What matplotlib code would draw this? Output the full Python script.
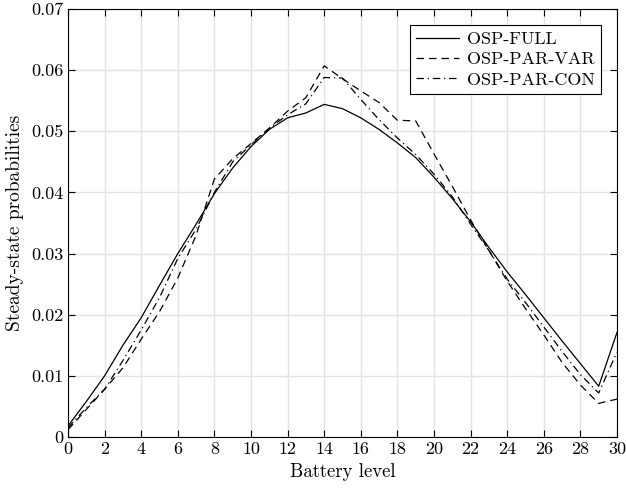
import matplotlib
matplotlib.use("Agg")
import matplotlib.pyplot as plt

plt.rcParams['font.family'] = 'serif'
plt.rcParams['font.serif'] = ['cmr10']
plt.rcParams['mathtext.fontset'] = 'cm'
plt.rcParams['axes.unicode_minus'] = False

# battery levels 0..30
levels = list(range(31))

osp_full = [0.0018, 0.0058, 0.0100, 0.0150, 0.0195, 0.0248, 0.0300, 0.0348,
            0.0398, 0.0440, 0.0475, 0.0503, 0.0522, 0.0530, 0.0544, 0.0537,
            0.0522, 0.0503, 0.0481, 0.0457, 0.0425, 0.0390, 0.0352, 0.0310,
            0.0270, 0.0233, 0.0195, 0.0157, 0.0120, 0.0083, 0.0171]

osp_par_var = [0.0012, 0.0045, 0.0078, 0.0113, 0.0160, 0.0205, 0.0260, 0.0330,
               0.0422, 0.0455, 0.0480, 0.0505, 0.0533, 0.0555, 0.0607, 0.0586,
               0.0566, 0.0547, 0.0518, 0.0517, 0.0463, 0.0410, 0.0355, 0.0305,
               0.0255, 0.0210, 0.0167, 0.0122, 0.0085, 0.0055, 0.0062]

osp_par_con = [0.0015, 0.0048, 0.0078, 0.0125, 0.0175, 0.0228, 0.0292, 0.0340,
               0.0400, 0.0450, 0.0478, 0.0505, 0.0527, 0.0545, 0.0588, 0.0587,
               0.0552, 0.0519, 0.0489, 0.0462, 0.0430, 0.0393, 0.0348, 0.0305,
               0.0258, 0.0220, 0.0180, 0.0140, 0.0102, 0.0072, 0.0139]

xticks = list(range(0, 31, 2))
yticks = [0, 0.01, 0.02, 0.03, 0.04, 0.05, 0.06, 0.07]
ytick_labels = ['0', '0.01', '0.02', '0.03', '0.04', '0.05', '0.06', '0.07']

fig = plt.figure(figsize=(6.26, 4.91), dpi=100)
ax = fig.add_axes([68/626, 54/491, 549/626, 428/491])

ax.plot(levels, osp_full, color='black', linestyle='-', linewidth=0.9, label='OSP-FULL')
ax.plot(levels, osp_par_var, color='black', linestyle=(0, (6, 4)), linewidth=0.9, label='OSP-PAR-VAR')
ax.plot(levels, osp_par_con, color='black', linestyle=(0, (6, 3, 1, 3)), linewidth=0.9, label='OSP-PAR-CON')

ax.set_xlim(0, 30)
ax.set_ylim(0, 0.07)
ax.set_xticks(xticks)
ax.set_yticks(yticks)
ax.set_yticklabels(ytick_labels)
ax.tick_params(direction='in', top=True, right=True, length=5, width=0.8, labelsize=13)
ax.grid(True, color='#e3e3e3', linewidth=1.0)
ax.set_axisbelow(True)
for s in ax.spines.values():
    s.set_linewidth(0.8)

ax.set_xlabel('Battery level', fontsize=13.5, labelpad=4)
ax.set_ylabel('Steady-state probabilities', fontsize=14, labelpad=5)

leg = ax.legend(loc='upper right', fontsize=13, fancybox=False, framealpha=1,
                edgecolor='black', handlelength=2.4, borderaxespad=0.9,
                borderpad=0.35, labelspacing=0.25, handletextpad=0.4)
leg.get_frame().set_linewidth(0.8)

fig.savefig('out.png', dpi=100)
